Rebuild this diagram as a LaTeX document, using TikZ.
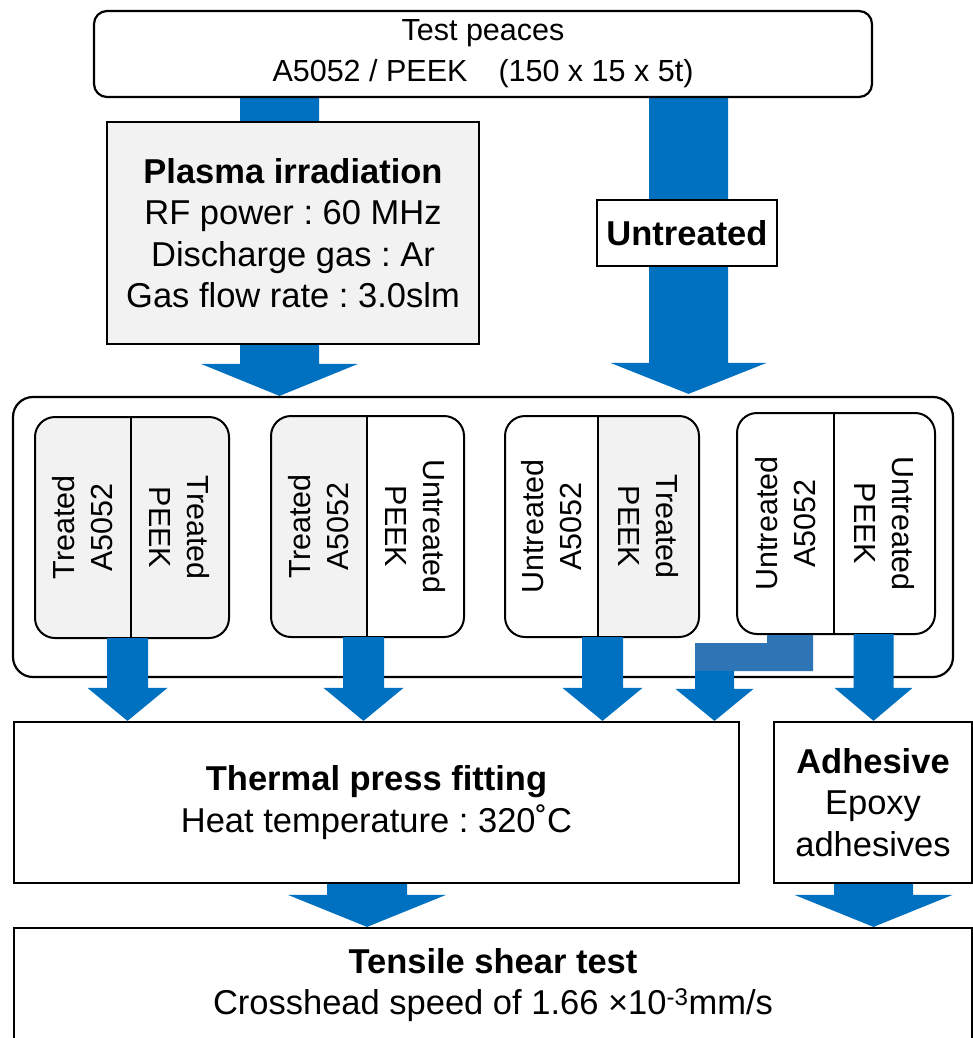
\documentclass[tikz,border=0pt]{standalone}
\usepackage{fontspec}
\setmainfont{Liberation Sans}
\usetikzlibrary{calc}
\frenchspacing
\definecolor{arrowblue}{HTML}{0070C0}
\definecolor{bentblue}{HTML}{2E75B6}
\definecolor{panelgray}{HTML}{F2F2F2}
\pgfdeclarelayer{bglayer}
\pgfdeclarelayer{arrowlayer}
\pgfsetlayers{bglayer,arrowlayer,main}
\newcommand{\blockarrow}[6][arrowblue]{%
  \fill[#1] ($(#2)+(-#4,0)$) -- ($(#3)+(-#4,-#6)$) -- ($(#3)+(-#5,-#6)$) -- (#3)
    -- ($(#3)+(#5,-#6)$) -- ($(#3)+(#4,-#6)$) -- ($(#2)+(#4,0)$) -- cycle;}
\tikzset{
  boxline/.style={draw, line width=2.2pt, inner sep=0pt, align=center},
  bigfont/.style={font=\frenchspacing\fontsize{34.5}{41.5}\selectfont},
  midfont/.style={font=\frenchspacing\fontsize{30.5}{41}\selectfont},
  samplefont/.style={font=\fontsize{30.5}{38}\selectfont, inner sep=0pt, align=center},
  halfcell/.style={inner sep=0pt, outer sep=0pt},
}
\begin{document}
\begin{tikzpicture}[x=1pt,y=-1pt]
\useasboundingbox (0,0) rectangle (973,1038);
\clip (0,0) rectangle (973,1038);
\begin{pgfonlayer}{bglayer}
\fill[white] (0,0) rectangle (973,1038);
\end{pgfonlayer}

% ---- top part ----
\node[boxline, rounded corners=13pt, fill=white, minimum width=778pt, minimum height=86pt, midfont] (top) at (483,54)
  {Test peaces\\A5052 / PEEK\hspace{31pt}(150 x 15 x 5t)};
\node[boxline, fill=panelgray, minimum width=372pt, minimum height=222pt, bigfont] (plasma) at (293,233)
  {\textbf{Plasma irradiation}\\RF power : 60 MHz\\Discharge gas : Ar\\Gas flow rate : 3.0slm};
\node[boxline, fill=white, minimum width=180pt, minimum height=66pt, bigfont] (untr) at (687,233)
  {\textbf{Untreated}};
\node[draw, line width=2.2pt, rounded corners=20pt, minimum width=940pt, minimum height=280pt, inner sep=0pt] (cont) at (483,537) {};

\coordinate (xA) at (279.5,0);
\coordinate (xB) at (688.5,0);
\coordinate (As) at (top.south -| xA);
\coordinate (Ae) at (cont.north -| xA);
\coordinate (Bs) at (top.south -| xB);
\coordinate (Be) at ($(cont.north -| xB)+(0,-2)$);
\begin{pgfonlayer}{arrowlayer}
\blockarrow{As}{Ae}{39.5}{78.5}{32}
\blockarrow{Bs}{Be}{39.5}{78}{31}
\end{pgfonlayer}

% ---- sample pairs ----
\foreach \n/\xa/\xm/\xb/\ya/\yb/\fl/\fr/\tl/\tr in {
  p1/35/131/229/417/638/panelgray/panelgray/Treated/Treated,
  p2/271/367/464/416/637/panelgray/white/Treated/Untreated,
  p3/505/598/699/416/637/white/panelgray/Untreated/Treated,
  p4/737/834/935/413/634/white/white/Untreated/Untreated}{
  \begin{scope}
    \clip[rounded corners=20pt] (\xa,\ya) rectangle (\xb,\yb);
    \fill[\fl] (\xa,\ya) rectangle (\xm,\yb);
    \fill[\fr] (\xm,\ya) rectangle (\xb,\yb);
  \end{scope}
  \node[halfcell, minimum width={\xm-\xa}, minimum height={\yb-\ya}] (\n-l) at ({(\xa+\xm)/2},{(\ya+\yb)/2}) {};
  \node[halfcell, minimum width={\xb-\xm}, minimum height={\yb-\ya}] (\n-r) at ({(\xm+\xb)/2},{(\ya+\yb)/2}) {};
  \draw[line width=2pt, rounded corners=20pt] (\xa,\ya) rectangle (\xb,\yb);
  \draw[line width=2pt] (\n-l.north east) -- (\n-l.south east);
  \node[samplefont, rotate=90] (\n-lt) at (\n-l) {\tl\\A5052};
  \node[samplefont, rotate=-90] (\n-rt) at (\n-r) {\tr\\PEEK};
}

% ---- lower boxes ----
\node[boxline, fill=white, minimum width=725pt, minimum height=161pt, bigfont] (thermal) at (376.5,802.5)
  {\textbf{Thermal press fitting}\\Heat temperature : 320˚C};
\node[boxline, fill=white, minimum width=198pt, minimum height=161pt, bigfont] (adh) at (873,802.5)
  {\textbf{Adhesive}\\Epoxy\\adhesives};
\node[boxline, fill=white, minimum width=958pt, minimum height=114pt, bigfont] (tens) at (493,985)
  {\textbf{Tensile shear test}\\Crosshead speed of 1.66 ×10\textsuperscript{-3}mm/s};

% ---- arrows from the pairs ----
\coordinate (x1) at (127.5,0);
\coordinate (x2) at (363.5,0);
\coordinate (x3) at (602.5,0);
\coordinate (x5) at (873.5,0);
\coordinate (s1) at (p1-l.south -| x1);
\coordinate (e1) at (thermal.north -| x1);
\coordinate (s2) at (p2-l.south -| x2);
\coordinate (e2) at (thermal.north -| x2);
\coordinate (s3) at (p3-l.south -| x3);
\coordinate (e3) at (thermal.north -| x3);
\coordinate (s5) at (p4-r.south -| x5);
\coordinate (e5) at (adh.north -| x5);
\blockarrow{s1}{e1}{20.5}{40}{33}
\blockarrow{s2}{e2}{20.5}{40}{33}
\blockarrow{s3}{e3}{20.5}{40}{33}
\blockarrow{s5}{e5}{20}{39}{33}

\begin{scope}[shift={(p4-l.south)}]
  \fill[bentblue] (-18.5,1) -- (27.5,1) -- (27.5,37) -- (-90.5,37) -- (-90.5,9) -- (-18.5,9) -- cycle;
  \coordinate (s4) at (-71,37);
\end{scope}
\coordinate (e4) at (thermal.north -| s4);
\blockarrow{s4}{e4}{19.5}{39}{32}

% ---- bottom arrows ----
\coordinate (x6) at (367,0);
\coordinate (s6) at (thermal.south -| x6);
\coordinate (e6) at (tens.north -| x6);
\coordinate (s7) at (adh.south -| x5);
\coordinate (e7) at (tens.north -| x5);
\blockarrow{s6}{e6}{40}{79}{32}
\blockarrow{s7}{e7}{39.5}{79}{32}
\end{tikzpicture}
\end{document}
